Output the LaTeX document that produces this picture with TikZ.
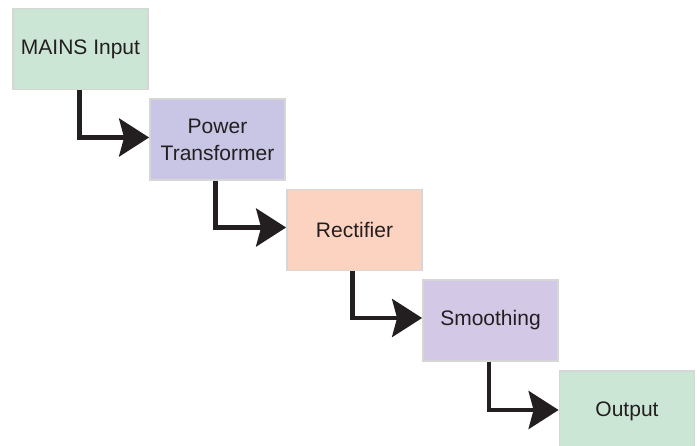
\documentclass[tikz,border=0pt]{standalone}
\usepackage{fontspec}
\setmainfont{Liberation Sans}
\usetikzlibrary{arrows.meta}
\definecolor{boxgreen}{HTML}{CCE6D6}
\definecolor{boxblue}{HTML}{C8C6E4}
\definecolor{boxpeach}{HTML}{FCD3C1}
\definecolor{boxlilac}{HTML}{D3C8E5}
\definecolor{boxline}{HTML}{D6D6D6}
\definecolor{txt}{HTML}{231F20}
\begin{document}
\begin{tikzpicture}[x=1pt,y=-1pt,
  blk/.style={draw=boxline, line width=1.8pt, minimum width=135pt, minimum height=81pt,
    inner sep=0pt, align=center, text=txt, font=\fontsize{21}{27}\selectfont},
  flow/.style={draw=txt, line width=4.5pt, -{Stealth[length=30pt,width=38pt,inset=5pt]}}]
\useasboundingbox (0,0) rectangle (697,446);
\clip (0,0) rectangle (697,446);
\node[blk, fill=boxgreen] (b1) at (80.5,49) {MAINS Input};
\node[blk, fill=boxblue] (b2) at (217.5,139.5) {Power\\Transformer};
\node[blk, fill=boxpeach] (b3) at (354.5,230) {Rectifier};
\node[blk, fill=boxlilac] (b4) at (490.5,320.5) {Smoothing};
\node[blk, fill=boxgreen] (b5) at (627,411.5) {Output};
\draw[flow] ([xshift=-1pt]b1.south) |- ([yshift=2pt]b2.west);
\draw[flow] ([xshift=-2pt]b2.south) |- ([yshift=2.5pt]b3.west);
\draw[flow] ([xshift=-2pt]b3.south) |- ([yshift=2.5pt]b4.west);
\draw[flow] ([xshift=-1.5pt]b4.south) |- ([yshift=1.5pt]b5.west);
\end{tikzpicture}
\end{document}
